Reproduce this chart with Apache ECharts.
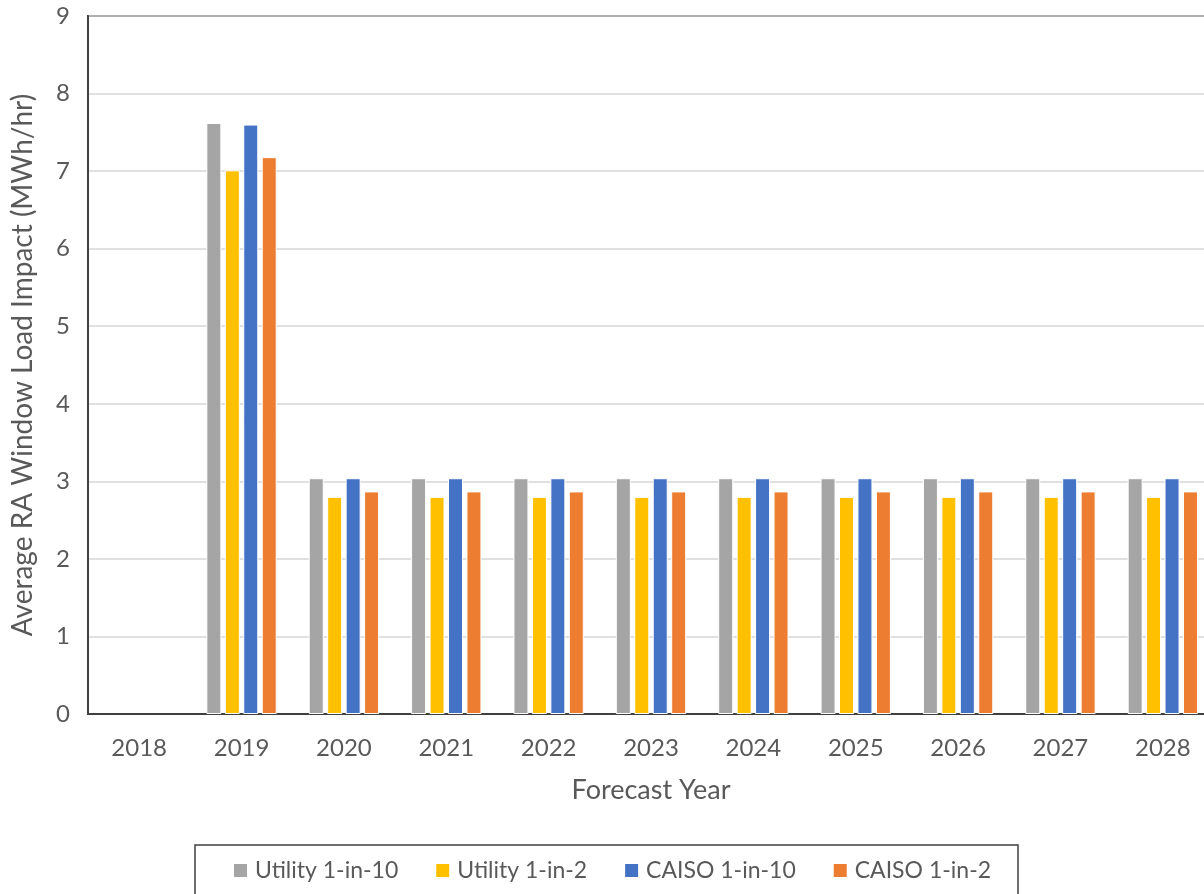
<!DOCTYPE html>
<html>
<head>
<meta charset="utf-8">
<script src="https://cdn.jsdelivr.net/npm/echarts@6/dist/echarts.min.js"></script>
<style>
  html, body { margin: 0; padding: 0; background: #fff; overflow: hidden; }
  /* plot area runs a little past the right edge of the page */
  #chart { width: 1216px; height: 894px; }
</style>
</head>
<body>
<div id="chart"></div>
<script>
// Forecast years on the category axis
const years = ['2018', '2019', '2020', '2021', '2022', '2023', '2024', '2025', '2026', '2027', '2028'];

// Average RA window load impact (MWh/hr) per scenario
const utility1in10 = [null, 7.62, 3.04, 3.04, 3.04, 3.04, 3.04, 3.04, 3.04, 3.04, 3.04];
const utility1in2  = [null, 7.01, 2.80, 2.80, 2.80, 2.80, 2.80, 2.80, 2.80, 2.80, 2.80];
const caiso1in10   = [null, 7.60, 3.04, 3.04, 3.04, 3.04, 3.04, 3.04, 3.04, 3.04, 3.04];
const caiso1in2    = [null, 7.18, 2.87, 2.87, 2.87, 2.87, 2.87, 2.87, 2.87, 2.87, 2.87];

const seriesNames = ['Utility 1-in-10', 'Utility 1-in-2', 'CAISO 1-in-10', 'CAISO 1-in-2'];
const seriesData = [utility1in10, utility1in2, caiso1in10, caiso1in2];
const seriesColors = ['#A5A5A5', '#FFC000', '#4472C4', '#ED7D31'];

const FONT = 'Lato';
const TEXT = '#595959';

const chart = echarts.init(document.getElementById('chart'), null, { renderer: 'canvas' });

chart.setOption({
  animation: false,
  textStyle: { fontFamily: FONT },
  grid: {
    left: 88,
    top: 16,
    width: 1126,
    height: 698,
    show: true,
    borderColor: '#404040',
    borderWidth: 2,
    backgroundColor: 'transparent'
  },
  legend: {
    data: seriesNames,
    left: 195,
    top: 845,
    icon: 'rect',
    itemWidth: 15,
    itemHeight: 15,
    itemGap: 36,
    padding: [14, 27, 40, 37],
    borderColor: '#404040',
    borderWidth: 1.5,
    textStyle: { color: TEXT, fontSize: 23, fontFamily: FONT, padding: [0, 0, 0, 2] }
  },
  xAxis: {
    type: 'category',
    data: years,
    name: 'Forecast Year',
    nameLocation: 'middle',
    nameGap: 63,
    nameTextStyle: { color: TEXT, fontSize: 27, fontFamily: FONT },
    axisLine: { show: true, lineStyle: { color: '#404040', width: 2 } },
    axisTick: { show: false },
    axisLabel: { color: TEXT, fontSize: 24, margin: 22, fontFamily: FONT },
    splitLine: { show: false }
  },
  yAxis: {
    type: 'value',
    min: 0,
    max: 9,
    interval: 1,
    name: 'Average RA Window Load Impact (MWh/hr)',
    nameLocation: 'middle',
    nameGap: 51,
    nameTextStyle: { color: TEXT, fontSize: 28, fontFamily: FONT },
    axisLine: { show: true, lineStyle: { color: '#404040', width: 2 } },
    axisTick: { show: false },
    axisLabel: { color: TEXT, fontSize: 24, margin: 18, fontFamily: FONT },
    splitLine: { show: true, lineStyle: { color: '#d6d6d6', width: 1.5 } }
  },
  series: seriesNames.map((name, i) => ({
    name: name,
    type: 'bar',
    data: seriesData[i],
    barWidth: 15,
    barGap: '23%',
    itemStyle: { color: seriesColors[i], borderColor: '#ffffff', borderWidth: 1 }
  }))
});
</script>
</body>
</html>
